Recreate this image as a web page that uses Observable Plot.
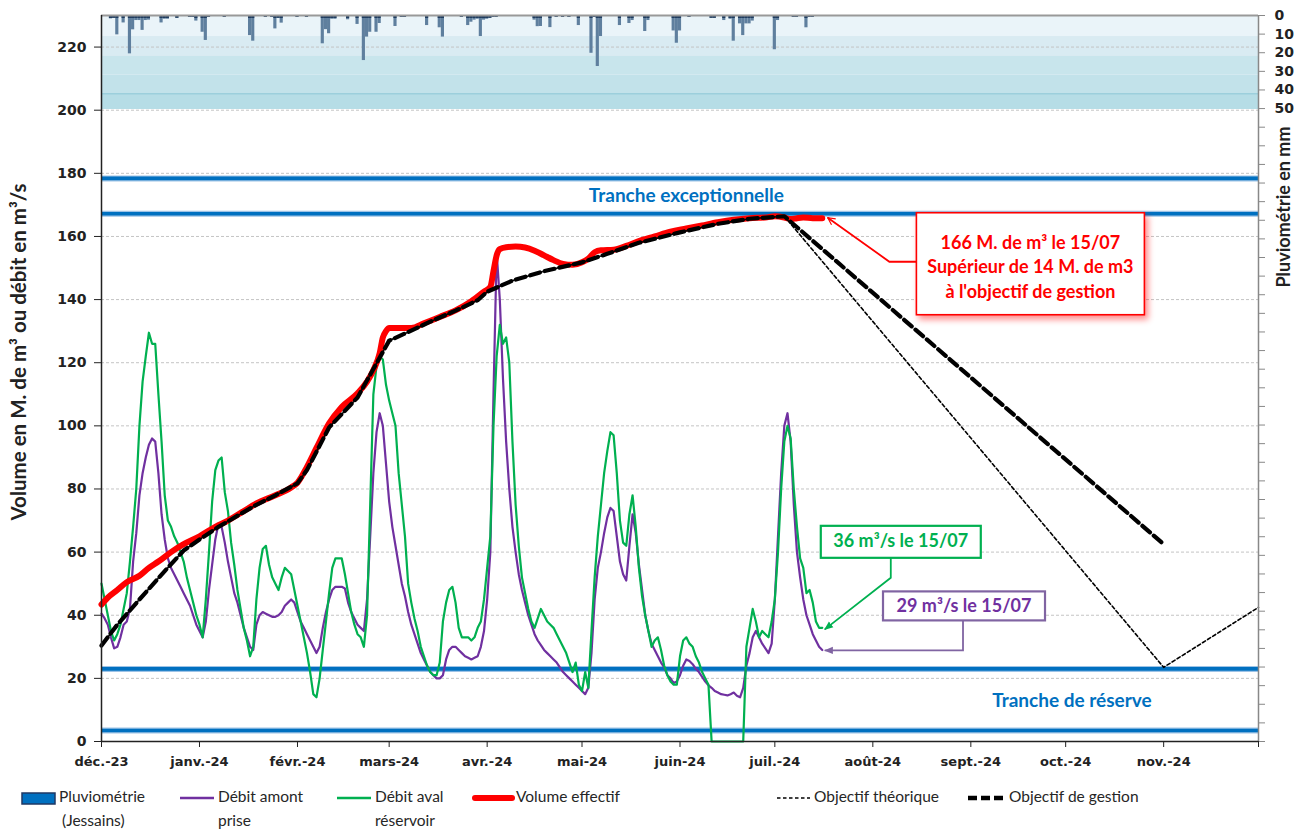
<!DOCTYPE html>
<html><head><meta charset="utf-8">
<script src="https://cdn.jsdelivr.net/npm/d3@7"></script>
<script src="https://cdn.jsdelivr.net/npm/@observablehq/plot@0.6"></script>
<style>
body{margin:0;background:#fff;}
#wrap{position:relative;width:1297px;height:829px;overflow:hidden;font-family:Lato,sans-serif;}
#wrap svg{position:absolute;left:0;}
</style></head><body><div id="wrap"></div>
<script>
// ---------- DATA ----------
const debutSerie = "2023-12-01";           // first day of the daily flow series
const finAxe = "2024-12-01";
// Débit aval réservoir (m3/s), daily from 2023-12-01
const debitAval = [
 50,45,40,35,32,34,37,42,47,57,
 68,80,100,114,122,129.5,126,126,110,95,
 78,70,68,65,63,60,57,52,48,44,
 40,37,33,45,60,76,86,89,90,79,
 73,63,56,48,42,36,32,27,30,45,
 55,61,62,56,52,50,48,52,55,54,
 53,48,43,38,33,28,22,15,14,20,
 29,38,47,55,58,58,58,53,47,41,
 37,34,33,30,40,75,110,119,122,121,
 113,108,104,100,85,75,65,50,44,39,
 35,30,27,24,22,21,21,25,38,44,
 48,49,44,36,33,33,33,32,33,36,
 38,45,55,65,100,122,132,126,128,120,
 95,75,62,52,47,42,38,36,39,42,
 40,38,37,36,34,32,30,28,25,22,
 25,18,16,22,17,35,52,65,75,85,
 92,98,97,85,70,63,62,72,78,68,
 55,46,40,35,30,32,33,29,24,21,
 19,18,18,27,32,33,31,30,27,25,
 22,20,18,0,0,0,0,0,0,0,
 0,0,0,0,30,36,42,38,33,35,
 34,33,38,45,60,80,95,100,96,80,
 68,58,55,47,48,44,38,36,36
];
// Débit amont prise (m3/s), daily from 2023-12-01
const debitAmont = [
 40.5,39,37,33,29.5,30,33,37,38,42,
 57,66,78,85,90,94,96,95,85,72,
 64,58,55,53,51,49,47,45,43,40,
 37,35,33,38,48,56,64,69,68,63,
 57,52,47,44,40,36,33,30,29,37,
 40,41,40.5,40,39.5,39.5,40,41,43,44,
 45,44,41,38,36,34,32,30,28,30,
 36,41,45,48,49,49,49,48.5,44,41,
 39,37,36,35,45,65,85,98,104,100,
 88,76,68,62,56,50,46,41,37,34,
 31,28,26,24,22,21,20,20,21,26,
 29,30,30,29,28,27,26.5,26,26.5,27,
 30,35,45,60,110,155,140,115,95,80,
 68,60,53,48,44,40,37,34,32,30.5,
 29,28,27,26,25,23.5,22,21,20,19,
 18,17,16,15,17,28,45,55,60,66,
 71,74,73,65,57,53,51,62,72,66,
 56,48,40,35,31,29,27,25,23.5,21,
 20,18.5,19,21,24,26,25.5,24.5,23,22,
 20.5,19,17.8,17,16,15.5,15,14.8,14.6,15,
 15.5,14.5,14,17,24,28,33,35,33,31,
 29.5,28,31,45,65,85,100,104,95,75,
 60,52,45,40,37,34,32,30,29
];
// Pluviométrie Jessains (mm), rainy days only
const pluie = [
 ["2023-12-04",1.8],["2023-12-05",1.5],["2023-12-06",10.4],["2023-12-08",4],["2023-12-10",20.6],
 ["2023-12-11",7.7],["2023-12-12",2.7],["2023-12-13",2.7],["2023-12-14",8],["2023-12-15",2.7],
 ["2023-12-16",2.5],["2023-12-20",4],["2023-12-21",2],["2023-12-22",2],["2023-12-25",1.5],
 ["2023-12-29",1],["2023-12-30",1],["2023-12-31",3],["2024-01-02",9],["2024-01-03",13.4],
 ["2024-01-04",1],["2024-01-09",1],["2024-01-17",10.8],["2024-01-18",13.8],["2024-01-22",1],
 ["2024-01-24",1],["2024-01-25",7.2],["2024-01-26",1.5],["2024-01-27",4.1],["2024-02-01",1],
 ["2024-02-04",1],["2024-02-09",15.2],["2024-02-10",7.6],["2024-02-11",9.8],["2024-02-12",2],
 ["2024-02-13",2],["2024-02-17",2.3],["2024-02-20",4.8],["2024-02-22",24.2],["2024-02-23",11.6],
 ["2024-02-24",9],["2024-02-26",9],["2024-02-27",4.3],["2024-03-03",5.9],["2024-03-05",1],
 ["2024-03-06",1],["2024-03-13",5.4],["2024-03-17",6.6],["2024-03-18",11.6],["2024-03-24",1],
 ["2024-03-26",5.4],["2024-03-27",3.6],["2024-03-28",2.5],["2024-03-29",2],["2024-03-30",11.3],
 ["2024-03-31",2.5],["2024-04-01",2],["2024-04-02",1.5],["2024-04-03",1],["2024-04-04",1],
 ["2024-04-16",2.5],["2024-04-17",6],["2024-04-18",5.9],["2024-04-21",6.5],["2024-04-23",1],
 ["2024-04-25",1],["2024-04-27",1],["2024-04-30",5.4],["2024-05-04",20.3],["2024-05-05",1],
 ["2024-05-06",27.4],["2024-05-07",11.3],["2024-05-13",5.4],["2024-05-16",4.3],["2024-05-17",2.7],
 ["2024-05-21",8.6],["2024-05-22",2.7],["2024-05-30",8.3],["2024-05-31",14.9],["2024-06-01",8.3],
 ["2024-06-04",1],["2024-06-11",1.5],["2024-06-12",1.5],["2024-06-15",2.7],["2024-06-17",2],
 ["2024-06-18",13.8],["2024-06-20",4.5],["2024-06-21",10.8],["2024-06-22",4.5],["2024-06-23",4.5],
 ["2024-06-24",3],["2024-07-01",18.4],["2024-07-02",2.7],["2024-07-07",1],["2024-07-08",1],
 ["2024-07-11",6.6],["2024-07-12",1],["2024-07-13",1]
];
// Volume effectif (M. m3)
const volume = [
 ["2023-12-01",43.4],["2023-12-03",45.6],["2023-12-06",48],["2023-12-09",50.5],["2023-12-13",52.5],
 ["2023-12-16",55],["2023-12-19",57],["2023-12-23",60],["2023-12-27",62.5],["2024-01-01",65],
 ["2024-01-06",68],["2024-01-10",70],["2024-01-15",73],["2024-01-19",75.4],["2024-01-25",78],
 ["2024-01-30",80.5],["2024-02-01",82],["2024-02-04",87],["2024-02-07",93],["2024-02-11",100.8],
 ["2024-02-15",106],["2024-02-20",110.3],["2024-02-23",114],["2024-02-25",117.6],["2024-02-27",123],
 ["2024-02-28",128],["2024-02-29",130],["2024-03-01",131],["2024-03-04",131],["2024-03-08",131],
 ["2024-03-12",132.5],["2024-03-17",134.5],["2024-03-22",136.6],["2024-03-27",139.5],["2024-03-31",142.5],
 ["2024-04-02",144],["2024-04-03",149],["2024-04-04",154],["2024-04-05",156],["2024-04-07",156.6],
 ["2024-04-10",156.8],["2024-04-13",156.5],["2024-04-16",155.5],["2024-04-19",154],["2024-04-22",152.5],
 ["2024-04-25",151.3],["2024-04-28",151],["2024-05-01",151.8],["2024-05-03",153],["2024-05-05",155],
 ["2024-05-07",155.6],["2024-05-11",155.8],["2024-05-15",157],["2024-05-19",158.5],["2024-05-24",160],
 ["2024-05-29",161.5],["2024-06-03",162.5],["2024-06-08",163.5],["2024-06-13",164.5],["2024-06-18",165.3],
 ["2024-06-23",165.8],["2024-06-28",166],["2024-07-01",166.4],["2024-07-04",166],["2024-07-06",165.5],
 ["2024-07-08",165.8],["2024-07-10",166],["2024-07-13",165.8],["2024-07-16",165.8]
];
// Objectif de gestion (M. m3)
const objGestion = [
 ["2023-12-01",30.4],["2023-12-06",37],["2023-12-13",45],["2023-12-21",54],["2023-12-27",60.5],
 ["2024-01-01",64],["2024-01-07",68],["2024-01-19",75],["2024-01-25",78],["2024-02-01",81.8],
 ["2024-02-04",86],["2024-02-11",99.5],["2024-02-20",109],["2024-02-25",118],["2024-03-01",127],
 ["2024-03-07",129.7],["2024-03-14",133],["2024-03-22",136.5],["2024-03-29",139.8],["2024-04-01",142.5],
 ["2024-04-09",146],["2024-04-19",149],["2024-05-01",151.8],["2024-05-09",154.5],["2024-05-19",158],
 ["2024-06-01",161.3],["2024-06-13",164],["2024-06-23",165.6],["2024-07-04",166.4],["2024-11-01",62.5]
];
// Objectif théorique (M. m3)
const objTheorique = [
 ["2023-12-01",30.4],["2023-12-06",37],["2023-12-13",45],["2023-12-21",54],["2023-12-27",60.5],
 ["2024-01-01",64],["2024-01-07",68],["2024-01-19",75],["2024-01-25",78],["2024-02-01",81.8],
 ["2024-02-04",86],["2024-02-11",99.5],["2024-02-20",109],["2024-02-25",118],["2024-03-01",127],
 ["2024-03-07",129.7],["2024-03-14",133],["2024-03-22",136.5],["2024-03-29",139.8],["2024-04-01",142.5],
 ["2024-04-09",146],["2024-04-19",149],["2024-05-01",151.8],["2024-05-09",154.5],["2024-05-19",158],
 ["2024-06-01",161.3],["2024-06-13",164],["2024-06-23",165.6],["2024-07-04",166.4],["2024-11-01",23.5],
 ["2024-12-01",42.5]
];
const tranches = [178.4, 167.2, 23, 3.5];
const tranchesLabels = [
 {date: "2024-06-03", value: 172.7, text: "Tranche exceptionnelle"},
 {date: "2024-10-03", value: 13, text: "Tranche de réserve"}
];
const moisLabels = ["déc.-23","janv.-24","févr.-24","mars-24","avr.-24","mai-24","juin-24","juil.-24","août-24","sept.-24","oct.-24","nov.-24"];
const yTicks = [0,20,40,60,80,100,120,140,160,180,200,220];
const pluieLabels = [0,10,20,30,40,50];
const pluieBandes = [[0,11.3],[11.3,22],[22,32],[32,42],[42,50.5]];
const yMax = 230, pluieMax = 390;

// ---------- BUILD ----------
const D0 = new Date(debutSerie), D1 = new Date(finAxe);
const day = i => d3.utcDay.offset(D0, i);
const aval = debitAval.map((v, i) => ({date: day(i), v}));
const amont = debitAmont.map((v, i) => ({date: day(i), v}));
const pair = a => a.map(([d, v]) => ({date: new Date(d), v}));
const vol = pair(volume), gest = pair(objGestion), theo = pair(objTheorique);
const rain = pluie.map(([d, mm]) => ({date: new Date(d), mm}));
const toY = mm => yMax - mm * yMax / pluieMax;
const monthTicks = d3.utcMonth.range(D0, d3.utcDay.offset(D1, 1));
const monthLabel = new Map(monthTicks.map((d, i) => [+d, moisLabels[i] ?? ""]));
const pluieTicks = d3.range(0, pluieMax + 1, 10);
const bandColors = ["#eaf4f9", "#d9ebf2", "#c8e5ec", "#c2e2ea", "#b6dde6"];
const bandes = pluieBandes.map(([a, b], i) => ({y1: toY(a), y2: toY(b), c: bandColors[i]}));
const halfDay = (d, s) => d3.utcHour.offset(d, s * 12);
const tickFont = {fontFamily: "DejaVu Sans", fontWeight: "bold", fontSize: 13};

const chart = Plot.plot({
  width: 1297, height: 780,
  marginLeft: 101, marginRight: 39, marginTop: 15, marginBottom: 39,
  x: {type: "utc", domain: [D0, D1]},
  y: {domain: [0, yMax]},
  style: {fontFamily: "Lato, sans-serif", background: "white", overflow: "visible"},
  marks: [
    Plot.rect(bandes, {y1: "y1", y2: "y2", fill: "c"}),
    Plot.ruleY([toY(42)], {stroke: "#9ccfdc", strokeWidth: 1.5}),
    Plot.gridY(yTicks.slice(1), {stroke: "#c4c4c4", strokeOpacity: 1, strokeDasharray: "3,2"}),
    Plot.ruleY(tranches, {stroke: "#9dc3e6", strokeWidth: 6}),
    Plot.ruleY(tranches, {stroke: "#0070c0", strokeWidth: 3.6}),
    Plot.rect(rain, {x1: d => halfDay(d.date, -1), x2: d => halfDay(d.date, 1), y1: () => yMax, y2: d => toY(d.mm), fill: "#5f7f9e"}),
    Plot.rect(rain, {x1: d => halfDay(d.date, -1), x2: d => halfDay(d.date, 1), y1: () => yMax, y2: d => toY(Math.min(d.mm, 1.6)), fill: "#1f3c5e"}),
    Plot.line(amont, {x: "date", y: "v", stroke: "#7030a0", strokeWidth: 2.2}),
    Plot.line(aval, {x: "date", y: "v", stroke: "#00b050", strokeWidth: 2.2}),
    Plot.line(vol, {x: "date", y: "v", stroke: "#ff0000", strokeWidth: 6, strokeLinejoin: "round", strokeLinecap: "round", curve: "monotone-x"}),
    Plot.line(theo, {x: "date", y: "v", stroke: "#000", strokeWidth: 1.6, strokeDasharray: "3.5,2.5"}),
    Plot.line(gest, {x: "date", y: "v", stroke: "#000", strokeWidth: 4.2, strokeDasharray: "10,5"}),
    Plot.text(tranchesLabels, {x: d => new Date(d.date), y: "value", text: "text", fill: "#0070c0", fontWeight: "bold", fontSize: 19, fontFamily: "Lato"}),
    Plot.ruleY([yMax], {stroke: "#999", strokeWidth: 2}),
    Plot.ruleX([D1], {stroke: "#888", strokeWidth: 1.5}),
    Plot.ruleX([D0], {stroke: "#222", strokeWidth: 1.5}),
    Plot.ruleY([0], {stroke: "#222", strokeWidth: 1.5}),
    Plot.axisY(yTicks, {anchor: "left", tickSize: 7, tickPadding: 8, label: null, color: "#222", ...tickFont, fontSize: 14}),
    Plot.axisY(pluieTicks.map(toY), {anchor: "right", tickSize: 6, tickPadding: 10, label: null, stroke: "#888", fill: "#222",
      tickFormat: y => { const mm = Math.round((yMax - y) * pluieMax / yMax); return pluieLabels.includes(mm) ? String(mm) : ""; }, ...tickFont, fontSize: 14}),
    Plot.axisX(monthTicks, {anchor: "bottom", tickSize: 6, tickPadding: 9, label: null, color: "#222", tickFormat: d => monthLabel.get(+d), ...tickFont})
  ]
});
chart.style.top = "0px";
document.getElementById("wrap").appendChild(chart);

// ---------- axis titles & callouts ----------
const X = chart.scale("x"), Y = chart.scale("y");
const svg = d3.select(chart);
svg.append("text").attr("transform", "translate(21,352) rotate(-90)").attr("text-anchor", "middle")
  .attr("dominant-baseline", "middle").attr("font-family", "Lato").attr("font-weight", "bold").attr("font-size", 20.5)
  .attr("fill", "#222").text("Volume en M. de m³ ou débit en m³/s");
svg.append("text").attr("transform", "translate(1285,207) rotate(-90)").attr("text-anchor", "middle")
  .attr("dominant-baseline", "middle").attr("font-family", "Lato").attr("font-weight", "bold").attr("font-size", 18)
  .attr("fill", "#222").text("Pluviométrie en mm");

const defs = svg.append("defs");
const f = defs.append("filter").attr("id", "glow").attr("x", "-20%").attr("y", "-20%").attr("width", "140%").attr("height", "150%");
f.append("feDropShadow").attr("dx", 3).attr("dy", 4).attr("stdDeviation", 3).attr("flood-color", "#ff0000").attr("flood-opacity", 0.45);
function arrowMarker(id, color, open) {
  const m = defs.append("marker").attr("id", id).attr("viewBox", "0 0 10 10").attr("refX", 9).attr("refY", 5)
    .attr("markerWidth", 9).attr("markerHeight", 9).attr("markerUnits", "userSpaceOnUse").attr("orient", "auto");
  if (open) m.append("path").attr("d", "M1,1L9,5L1,9").attr("fill", "none").attr("stroke", color).attr("stroke-width", 1.3);
  else m.append("path").attr("d", "M0,1L10,5L0,9Z").attr("fill", color);
}
arrowMarker("arR", "#ff0000", true);
arrowMarker("arG", "#00b050", false);
arrowMarker("arP", "#8064a2", false);

const last = a => a[a.length - 1];
const callouts = [
  {lines: ["166 M. de m³ le 15/07", "Supérieur de 14 M. de m3", "à l'objectif de gestion"], color: "#ff0000", border: "#ff0000",
   at: ["2024-09-20", 151.2], w: 228, h: 102, target: last(vol), marker: "arR", route: "left", glow: true, dy: 5},
  {lines: ["36 m³/s le 15/07"], color: "#00b050", border: "#00b050", at: ["2024-08-10", 63.1], w: 160, h: 32,
   target: last(aval), marker: "arG", route: "down", dy: 1},
  {lines: ["29 m³/s le 15/07"], color: "#7030a0", border: "#8064a2", at: ["2024-08-30", 42.8], w: 162, h: 29,
   target: last(amont), marker: "arP", route: "downleft", dy: 1}
];
for (const c of callouts) {
  const cx = X.apply(new Date(c.at[0])), cy = Y.apply(c.at[1]);
  const x0 = cx - c.w / 2, y0 = cy - c.h / 2;
  const tx = X.apply(c.target.date), ty = Y.apply(c.target.v);
  let pts;
  if (c.route === "left") pts = [[x0, cy - 2], [x0 - 27, cy - 2], [tx + 6, ty]];
  else if (c.route === "down") pts = [[cx - 10, y0 + c.h], [cx - 10, y0 + c.h + 20], [tx + 3, ty + 2]];
  else pts = [[cx - 1, y0 + c.h], [cx - 1, ty + 1], [tx + 3, ty + 1]];
  svg.append("path").attr("d", d3.line()(pts)).attr("fill", "none").attr("stroke", c.border).attr("stroke-width", 1.8)
    .attr("marker-end", `url(#${c.marker})`);
  const r = svg.append("rect").attr("x", x0).attr("y", y0).attr("width", c.w).attr("height", c.h)
    .attr("fill", "white").attr("stroke", c.border).attr("stroke-width", c.glow ? 1.6 : 2.2);
  if (c.glow) r.attr("filter", "url(#glow)");
  const n = c.lines.length;
  c.lines.forEach((t, i) => {
    svg.append("text").attr("x", cx).attr("y", cy + (i - (n - 1) / 2) * 24.5 + c.dy).attr("text-anchor", "middle")
      .attr("dominant-baseline", "middle").attr("font-family", "Lato").attr("font-weight", "bold").attr("font-size", 18)
      .attr("fill", c.color).text(t);
  });
}

// ---------- legend ----------
const leg = d3.select("#wrap").append("svg").attr("width", 1297).attr("height", 49).style("top", "780px");
const lf = s => s.attr("font-family", "Lato").attr("font-size", 15.5).attr("fill", "#262626");
const items = [
  {x: 22, w: 33, kind: "rect", text: ["Pluviométrie", "(Jessains)"], ind: 3},
  {x: 180, w: 34, kind: "line", stroke: "#7030a0", sw: 2.5, text: ["Débit amont", "prise"], ind: 0},
  {x: 337, w: 34, kind: "line", stroke: "#00b050", sw: 2.5, text: ["Débit aval", "réservoir"], ind: 0},
  {x: 475, w: 37, kind: "line", stroke: "#ff0000", sw: 6, cap: "round", text: ["Volume effectif"], ind: 0},
  {x: 777, w: 33, kind: "line", stroke: "#000", sw: 1.6, dash: "3.5,2.5", text: ["Objectif théorique"], ind: 0},
  {x: 968, w: 37, kind: "line", stroke: "#000", sw: 4.5, dash: "9,4", text: ["Objectif de gestion"], ind: 0}
];
for (const it of items) {
  if (it.kind === "rect") leg.append("rect").attr("x", it.x).attr("y", 13).attr("width", it.w).attr("height", 11)
    .attr("fill", "#0070c0").attr("stroke", "#1f3864").attr("stroke-width", 1.5);
  else leg.append("line").attr("x1", it.x).attr("x2", it.x + it.w).attr("y1", 18).attr("y2", 18)
    .attr("stroke", it.stroke).attr("stroke-width", it.sw).attr("stroke-linecap", it.cap || "butt")
    .attr("stroke-dasharray", it.dash || null);
  it.text.forEach((t, i) => lf(leg.append("text").attr("x", it.x + it.w + 4 + (i ? it.ind : 0)).attr("y", 18 + i * 24)
    .attr("dominant-baseline", "middle").text(t)));
}
</script></body></html>
